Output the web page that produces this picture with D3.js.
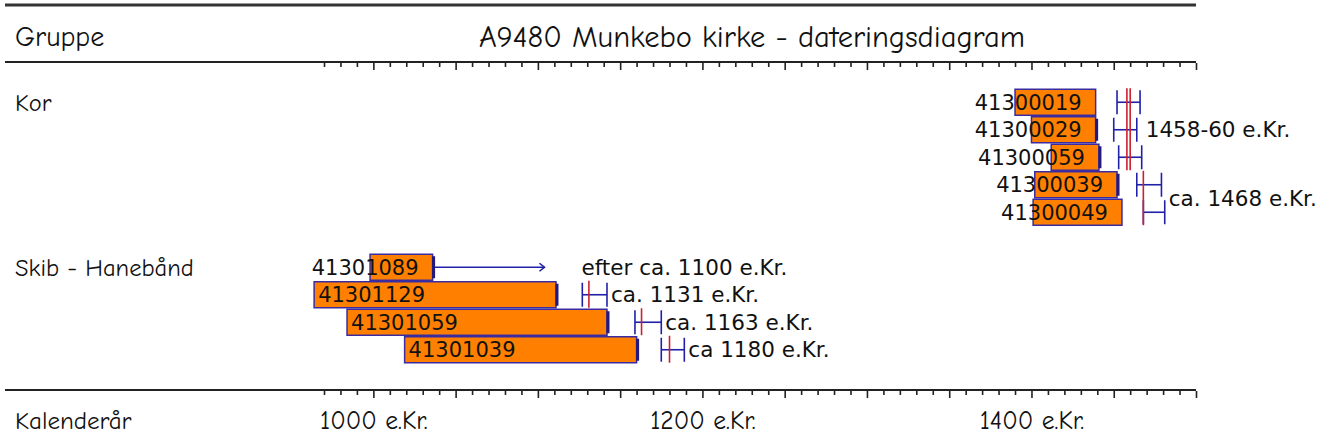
<!DOCTYPE html>
<html><head><meta charset="utf-8">
<script src="https://cdn.jsdelivr.net/npm/d3@7/dist/d3.min.js"></script>
<style>body{margin:0;background:#fff}svg{display:block}</style>
</head><body><svg id="c" width="1322" height="443"></svg>
<script>
const title = "A9480 Munkebo kirke - dateringsdiagram";
const headerLabel = "Gruppe";
const axisLabel = "Kalenderår";
const groups = ["Kor", "Skib - Hanebånd"];
const samples = ["41300019","41300029","41300059","41300039","41300049","41301089","41301129","41301059","41301039"];
const sampleGroup = [0,0,0,0,0,1,1,1,1];
const startYear = [1390,1400,1412,1402,1401,998,964,984,1019];
const endYear   = [1439,1439,1441,1452,1455,1036,1111,1142,1160];
const edgeMark  = [false,true,true,true,false,true,true,true,true];
const fellingFrom = [1452,1450,1453,1464,1468,null,1127,1159,1175];
const fellingTo   = [1466,1464,1467,1479,1481,null,1142,1175,1189];
const arrowTo     = [null,null,null,null,null,1104,null,null,null];
const datingText  = ["1458-60 e.Kr.","ca. 1468 e.Kr.","efter ca. 1100 e.Kr.","ca. 1131 e.Kr.","ca. 1163 e.Kr.","ca 1180 e.Kr."];
const datingYears = [[1458,1460],[1468],[],[1131],[1163],[1180]];
const datingFirst = [0,3,5,6,7,8];
const datingLast  = [2,4,5,6,7,8];
const tickYears  = [1000,1200,1400];
const tickLabels = ["1000 e.Kr.","1200 e.Kr.","1400 e.Kr."];
const axisDomain = [970,1500];

const svg = d3.select("#c");
const comic = "'Comic Sans MS','Comic Neue','DejaVu Sans',sans-serif";
const plain = "'DejaVu Sans','Verdana',sans-serif";
const BAR_FILL = "#ff8000", BAR_STROKE = "#3a2ca0", BLUE = "#2020a8", RED = "#cc1f2f";

const x = d3.scaleLinear().domain(axisDomain).range([324, 1196]);
const y = d3.scaleLinear().domain([-1.5, 10.5]).range([61, 391]);
const rowOf = i => i + sampleGroup[i];

// frame lines
svg.append("line").attr("x1",5).attr("x2",x(axisDomain[1])).attr("y1",5).attr("y2",5)
  .attr("stroke","#333").attr("stroke-width",3);
[62, 390].forEach(yy => {
  svg.append("line").attr("x1",5).attr("x2",x(axisDomain[1])).attr("y1",yy).attr("y2",yy)
    .attr("stroke","#222").attr("stroke-width",2);
});

const tickVals = d3.range(axisDomain[0], axisDomain[1] + 1, 10);
function tickAxis(yy) {
  const g = svg.append("g").attr("transform", `translate(0,${yy})`)
    .call(d3.axisBottom(x).tickValues(tickVals).tickFormat("").tickSizeOuter(0));
  g.select(".domain").remove();
  g.selectAll(".tick line").attr("stroke","#222").attr("stroke-width",1.6)
    .attr("y2", d => d % 50 === 0 ? 7 : 4);
}
tickAxis(63);
tickAxis(391);

// year labels
const lab = svg.append("g").attr("transform","translate(0,420)")
  .call(d3.axisBottom(x).tickValues(tickYears).tickSize(0).tickFormat((d,i) => tickLabels[i]));
lab.select(".domain").remove();
lab.selectAll("text").attr("y",0).attr("dy","0.35em")
  .style("font-family", comic).style("font-size","25.5px").attr("fill","#111");

// header texts
svg.append("text").attr("x",15).attr("y",36).attr("dy","0.35em").text(headerLabel)
  .style("font-family",comic).style("font-size","28px").attr("fill","#111");
svg.append("text").attr("x",752).attr("y",36).attr("dy","0.35em").attr("text-anchor","middle").text(title)
  .style("font-family",comic).style("font-size","30.5px").attr("fill","#111");
svg.append("text").attr("x",15).attr("y",420).attr("dy","0.35em").text(axisLabel)
  .style("font-family",comic).style("font-size","25px").attr("fill","#111");

// group labels
groups.forEach((g, gi) => {
  const first = sampleGroup.indexOf(gi);
  svg.append("text").attr("x",15).attr("y",y(rowOf(first))).attr("dy","0.35em").text(g)
    .style("font-family",comic).style("font-size","24.5px").attr("fill","#111");
});

// bars
const idx = d3.range(samples.length);
svg.append("g").selectAll("rect").data(idx).join("rect")
  .attr("x", i => x(startYear[i])).attr("width", i => x(endYear[i]) - x(startYear[i]))
  .attr("y", i => y(rowOf(i)) - 13).attr("height", 26)
  .attr("fill", BAR_FILL).attr("stroke", BAR_STROKE).attr("stroke-width", 1.5);
svg.append("g").selectAll("line").data(idx.filter(i => edgeMark[i])).join("line")
  .attr("x1", i => x(endYear[i]) + 1).attr("x2", i => x(endYear[i]) + 1)
  .attr("y1", i => y(rowOf(i)) - 11).attr("y2", i => y(rowOf(i)) + 11)
  .attr("stroke", "#22197a").attr("stroke-width", 3);

// sample labels
const labG = svg.append("g");
idx.forEach(i => {
  const t = labG.append("text").attr("y", y(rowOf(i))).attr("dy","0.36em").text(samples[i])
    .style("font-family",plain).style("font-size","21px").attr("fill","#111");
  const w = t.node().getComputedTextLength();
  t.attr("x", Math.min(x(startYear[i]) + 4, x(endYear[i]) - 14 - w));
});

// felling brackets
const br = svg.append("g").attr("stroke", BLUE).attr("stroke-width", 1.6).attr("fill","none");
idx.filter(i => fellingFrom[i] != null).forEach(i => {
  const cy = y(rowOf(i)), a = x(fellingFrom[i]), b = x(fellingTo[i]);
  br.append("line").attr("x1",a).attr("x2",a).attr("y1",cy-12).attr("y2",cy+12);
  br.append("line").attr("x1",b).attr("x2",b).attr("y1",cy-12).attr("y2",cy+12);
  br.append("line").attr("x1",a).attr("x2",b).attr("y1",cy).attr("y2",cy);
});
// arrows
idx.filter(i => arrowTo[i] != null).forEach(i => {
  const cy = y(rowOf(i)), a = x(endYear[i]) + 2, b = x(arrowTo[i]);
  br.append("line").attr("x1",a).attr("x2",b).attr("y1",cy).attr("y2",cy);
  br.append("path").attr("d", `M${b-5},${cy-4}L${b},${cy}L${b-5},${cy+4}`);
});

// dating lines and texts
const dg = svg.append("g");
datingText.forEach((txt, k) => {
  const r0 = rowOf(datingFirst[k]), r1 = rowOf(datingLast[k]);
  datingYears[k].forEach(yr => {
    dg.append("line").attr("x1",x(yr)).attr("x2",x(yr))
      .attr("y1", y(r0) - 14).attr("y2", y(r1) + 13)
      .attr("stroke", RED).attr("stroke-width", 1.6);
  });
  const members = d3.range(datingFirst[k], datingLast[k] + 1);
  const ends = members.map(i => fellingTo[i] != null ? x(fellingTo[i]) + 4 : x(arrowTo[i]) + 37);
  dg.append("text").attr("x", d3.max(ends)).attr("y", (y(r0) + y(r1)) / 2)
    .attr("dy","0.35em").text(txt)
    .style("font-family",plain).style("font-size","21.5px").attr("fill","#111");
});
</script></body></html>
